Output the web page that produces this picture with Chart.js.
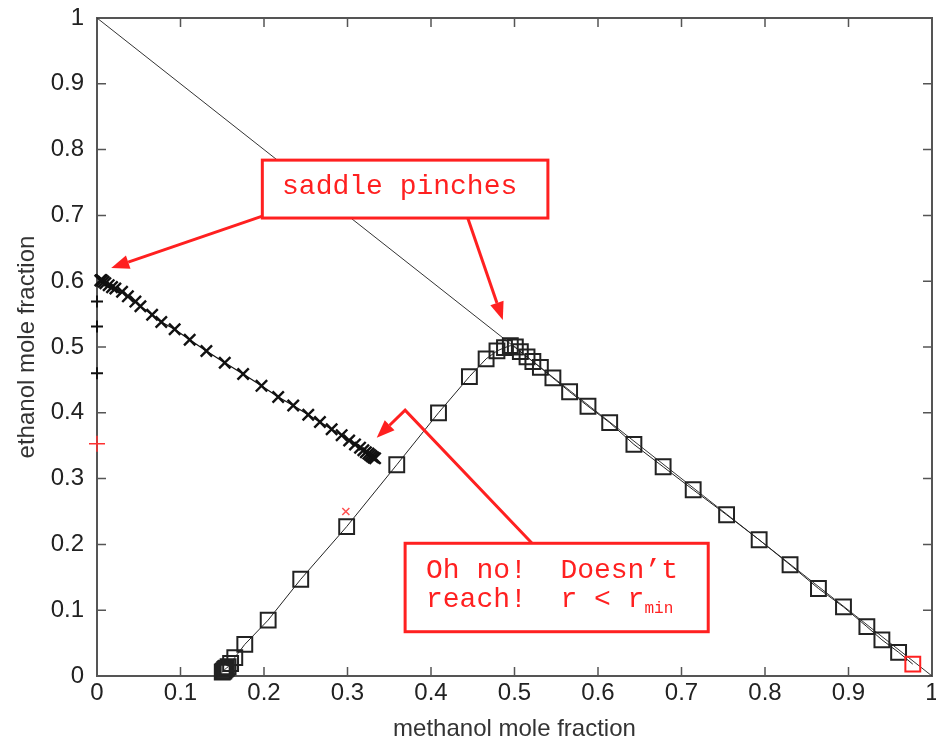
<!DOCTYPE html>
<html>
<head>
<meta charset="utf-8">
<script src="https://cdn.jsdelivr.net/npm/chart.js@4.4.0/dist/chart.umd.min.js"></script>
<style>
    html, body { margin: 0; padding: 0; background: #fff; }
    canvas { display: block; }
</style>
</head>
<body>
<canvas id="pinchChart" width="936" height="748"></canvas>
<script>
// axis ticks
const tickValues = [0, 0.1, 0.2, 0.3, 0.4, 0.5, 0.6, 0.7, 0.8, 0.9, 1];
const tickLabels = ["0", "0.1", "0.2", "0.3", "0.4", "0.5", "0.6", "0.7", "0.8", "0.9", "1"];

// x + y = 1 edge
const diagonalX = [0, 1];
const diagonalY = [1, 0];

// rectifying profile (squares), last point is the red one
const squareX = [0.150, 0.151, 0.152, 0.153, 0.154, 0.155, 0.157, 0.160, 0.165, 0.177,
    0.205, 0.244, 0.299, 0.359, 0.409, 0.446, 0.466, 0.479, 0.488, 0.495,
    0.501, 0.507, 0.515, 0.522, 0.531, 0.546, 0.566, 0.588, 0.614, 0.643,
    0.678, 0.714, 0.754, 0.793, 0.830, 0.864, 0.894, 0.922, 0.940, 0.960,
    0.977];
const squareY = [0.006, 0.007, 0.008, 0.010, 0.011, 0.012, 0.014, 0.019, 0.028, 0.048,
    0.085, 0.147, 0.227, 0.321, 0.400, 0.455, 0.482, 0.494, 0.499, 0.502,
    0.500, 0.493, 0.485, 0.478, 0.469, 0.453, 0.432, 0.410, 0.385, 0.352,
    0.318, 0.283, 0.245, 0.207, 0.169, 0.133, 0.105, 0.075, 0.055, 0.036,
    0.018];

// stripping profile (x markers)
const crossX = [0.004, 0.005, 0.006, 0.008, 0.010, 0.014, 0.018, 0.022, 0.030, 0.037,
    0.046, 0.052, 0.066, 0.077, 0.093, 0.111, 0.131, 0.153, 0.175, 0.197,
    0.217, 0.235, 0.253, 0.267, 0.281, 0.293, 0.302, 0.309, 0.315, 0.319,
    0.322, 0.325, 0.327, 0.329, 0.331, 0.333];
const crossY = [0.601, 0.602, 0.601, 0.599, 0.597, 0.594, 0.591, 0.589, 0.584, 0.577,
    0.569, 0.562, 0.549, 0.538, 0.527, 0.511, 0.494, 0.476, 0.459, 0.441,
    0.424, 0.411, 0.397, 0.386, 0.375, 0.366, 0.358, 0.352, 0.347, 0.343,
    0.340, 0.338, 0.336, 0.334, 0.332, 0.331];

// single markers
const axisPlusX = [0, 0, 0];
const axisPlusY = [0.569, 0.531, 0.460];
const redPlusX = [0];
const redPlusY = [0.353];
const redCrossX = [0.298];
const redCrossY = [0.250];

const noteColor = "#ff2020";
const noteFont = '28px "Liberation Mono", "Courier New", monospace';
const subFont = '16px "Liberation Mono", "Courier New", monospace';

// annotation arrows, in data units, last point is the tip
const noteArrows = [
    [[0.198, 0.699], [0.017, 0.620]],
    [[0.444, 0.696], [0.486, 0.541]],
    [[0.521, 0.2017], [0.369, 0.404], [0.335, 0.362]]
];

const noteBoxes = [
    {
        from: [0.198, 0.784], to: [0.540, 0.696],
        lines: [{ at: [0.2216, 0.7325], text: "saddle pinches" }]
    },
    {
        from: [0.369, 0.2017], to: [0.732, 0.0673],
        lines: [
            { at: [0.394, 0.149], text: "Oh no!  Doesn\u2019t" },
            { at: [0.394, 0.105], text: "reach!  r < r", sub: "min" }
        ]
    }
];

function toPoints(xs, ys) {
    return xs.map((x, i) => ({ x, y: ys[i] }));
}

const framePlugin = {
    id: "frame",
    beforeDatasetsDraw(chart) {
        const { ctx, chartArea, scales } = chart;
        const { left, right, top, bottom } = chartArea;
        ctx.save();
        ctx.strokeStyle = "#555";
        ctx.lineWidth = 2;
        ctx.strokeRect(left, top, right - left, bottom - top);
        ctx.lineWidth = 1.5;
        ctx.beginPath();
        tickValues.forEach(v => {
            const xp = scales.x.getPixelForValue(v);
            const yp = scales.y.getPixelForValue(v);
            ctx.moveTo(xp, bottom); ctx.lineTo(xp, bottom - 9);
            ctx.moveTo(xp, top); ctx.lineTo(xp, top + 9);
            ctx.moveTo(left, yp); ctx.lineTo(left + 9, yp);
            ctx.moveTo(right, yp); ctx.lineTo(right - 9, yp);
        });
        ctx.stroke();
        ctx.restore();
    }
};

const notesPlugin = {
    id: "notes",
    afterDraw(chart) {
        const { ctx, scales } = chart;
        const px = p => [scales.x.getPixelForValue(p[0]), scales.y.getPixelForValue(p[1])];
        ctx.save();
        ctx.strokeStyle = noteColor;
        ctx.fillStyle = noteColor;
        ctx.lineWidth = 3;
        noteArrows.forEach(path => {
            const pts = path.map(px);
            const tip = pts[pts.length - 1];
            const prev = pts[pts.length - 2];
            const ang = Math.atan2(tip[1] - prev[1], tip[0] - prev[0]);
            const headLen = 18, headHalf = 7;
            const base = [tip[0] - Math.cos(ang) * headLen, tip[1] - Math.sin(ang) * headLen];
            ctx.beginPath();
            ctx.moveTo(pts[0][0], pts[0][1]);
            pts.slice(1, -1).forEach(p => ctx.lineTo(p[0], p[1]));
            ctx.lineTo(base[0], base[1]);
            ctx.stroke();
            ctx.beginPath();
            ctx.moveTo(tip[0], tip[1]);
            ctx.lineTo(base[0] + Math.sin(ang) * headHalf, base[1] - Math.cos(ang) * headHalf);
            ctx.lineTo(base[0] - Math.sin(ang) * headHalf, base[1] + Math.cos(ang) * headHalf);
            ctx.closePath();
            ctx.fill();
        });
        noteBoxes.forEach(box => {
            const a = px(box.from), b = px(box.to);
            ctx.fillStyle = "#fff";
            ctx.fillRect(a[0], a[1], b[0] - a[0], b[1] - a[1]);
            ctx.strokeRect(a[0], a[1], b[0] - a[0], b[1] - a[1]);
            ctx.fillStyle = noteColor;
            ctx.textBaseline = "alphabetic";
            ctx.textAlign = "left";
            box.lines.forEach(line => {
                const p = px(line.at);
                ctx.font = noteFont;
                ctx.fillText(line.text, p[0], p[1]);
                if (line.sub) {
                    const w = ctx.measureText(line.text).width;
                    ctx.font = subFont;
                    ctx.fillText(line.sub, p[0] + w, p[1] + 6);
                }
            });
        });
        ctx.restore();
    }
};

const tickFont = { family: '"Liberation Sans", Arial, sans-serif', size: 24 };
const titleFont = { family: '"Liberation Sans", Arial, sans-serif', size: 24 };

new Chart(document.getElementById("pinchChart"), {
    type: "scatter",
    data: {
        datasets: [
            {
                data: toPoints(squareX, squareY),
                showLine: true,
                borderColor: "#222",
                borderWidth: 1,
                pointStyle: "rect",
                pointRadius: 10.5,
                pointBorderWidth: 2,
                pointBackgroundColor: "rgba(0,0,0,0)",
                pointBorderColor: ctx => ctx.dataIndex === squareX.length - 1 ? "#ff2020" : "#222",
                clip: false
            },
            {
                data: toPoints(crossX, crossY),
                showLine: true,
                borderColor: "#111",
                borderWidth: 1.2,
                pointStyle: "crossRot",
                pointRadius: 8,
                pointBorderWidth: 2.4,
                pointBorderColor: "#111",
                clip: false
            },
            {
                data: toPoints(axisPlusX, axisPlusY),
                showLine: false,
                pointStyle: "cross",
                pointRadius: 6,
                pointBorderWidth: 2,
                pointBorderColor: "#111",
                clip: false
            },
            {
                data: toPoints(redPlusX, redPlusY),
                showLine: false,
                pointStyle: "cross",
                pointRadius: 8,
                pointBorderWidth: 1.5,
                pointBorderColor: "#ff3030",
                clip: false
            },
            {
                data: toPoints(redCrossX, redCrossY),
                showLine: false,
                pointStyle: "crossRot",
                pointRadius: 5,
                pointBorderWidth: 1.5,
                pointBorderColor: "#ff5050",
                clip: false
            },
            {
                data: toPoints(diagonalX, diagonalY),
                showLine: true,
                borderColor: "#333",
                borderWidth: 1,
                pointRadius: 0,
                clip: false
            }
        ]
    },
    options: {
        responsive: false,
        animation: false,
        layout: { autoPadding: false, padding: { top: 18, right: 4, left: 0, bottom: 0 } },
        plugins: {
            legend: { display: false },
            tooltip: { enabled: false }
        },
        scales: {
            x: {
                type: "linear",
                min: 0,
                max: 1,
                grid: { display: false, drawTicks: false },
                border: { display: false },
                afterBuildTicks: s => { s.ticks = tickValues.map(v => ({ value: v })); },
                afterFit: s => { s.height = 72; s.paddingLeft = 0; s.paddingRight = 0; },
                ticks: {
                    autoSkip: false,
                    maxRotation: 0,
                    padding: 3,
                    color: "#222",
                    font: tickFont,
                    callback: (v, i) => tickLabels[i]
                },
                title: {
                    display: true,
                    text: "methanol mole fraction",
                    color: "#333",
                    font: titleFont,
                    padding: { top: 0, bottom: 4 }
                }
            },
            y: {
                type: "linear",
                min: 0,
                max: 1,
                grid: { display: false, drawTicks: false },
                border: { display: false },
                afterBuildTicks: s => { s.ticks = tickValues.map(v => ({ value: v })); },
                afterFit: s => { s.width = 97; s.paddingTop = 0; s.paddingBottom = 0; },
                ticks: {
                    autoSkip: false,
                    padding: 13,
                    color: "#222",
                    font: tickFont,
                    callback: (v, i) => tickLabels[i]
                },
                title: {
                    display: true,
                    text: "ethanol mole fraction",
                    color: "#333",
                    font: titleFont,
                    padding: { top: 13, bottom: 0 }
                }
            }
        }
    },
    plugins: [framePlugin, notesPlugin]
});
</script>
</body>
</html>
